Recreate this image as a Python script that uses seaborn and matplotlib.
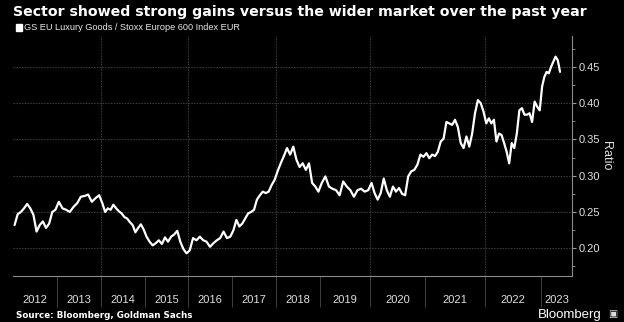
import numpy as np
import pandas as pd
import matplotlib
matplotlib.use("Agg")
import matplotlib.pyplot as plt
from matplotlib.patches import Patch
import seaborn as sns

# ---------------- data (ratio) ----------------
v2012 = [0.232, 0.247, 0.250, 0.255, 0.261, 0.255, 0.246, 0.223, 0.232, 0.237, 0.228, 0.234, 0.250, 0.253]
v2013 = [0.264, 0.255, 0.253, 0.250, 0.257, 0.262, 0.271, 0.272, 0.274, 0.264, 0.269, 0.273]
v2014 = [0.262, 0.250, 0.255, 0.253, 0.260, 0.255, 0.251, 0.248, 0.243, 0.241, 0.236, 0.232, 0.222, 0.228, 0.233, 0.226]
v2015 = [0.216, 0.209, 0.204, 0.207, 0.211, 0.206, 0.215, 0.209, 0.216, 0.219, 0.224, 0.209, 0.199, 0.193]
v2016 = [0.197, 0.214, 0.211, 0.216, 0.211, 0.209, 0.202, 0.207, 0.211, 0.214, 0.223, 0.214, 0.216]
v2017 = [0.225, 0.239, 0.230, 0.234, 0.241, 0.248, 0.250, 0.253, 0.267, 0.273, 0.278, 0.276, 0.278, 0.287, 0.294]
v2018 = [0.306, 0.317, 0.327, 0.338, 0.329, 0.340, 0.322, 0.312, 0.317, 0.308, 0.317, 0.290, 0.285, 0.278]
v2019 = [0.290, 0.299, 0.285, 0.282, 0.280, 0.273, 0.292, 0.285, 0.280, 0.271, 0.280, 0.282, 0.278, 0.280]
v2020 = [0.290, 0.276, 0.267, 0.276, 0.296, 0.280, 0.271, 0.285, 0.278, 0.283, 0.275, 0.273, 0.299,
         0.306, 0.308, 0.315, 0.329, 0.326]
v2021 = [0.331, 0.324, 0.329, 0.327, 0.333, 0.347, 0.351, 0.374, 0.372, 0.370, 0.377, 0.367, 0.345,
         0.338, 0.354, 0.340, 0.358, 0.386, 0.404, 0.400, 0.388]
v2022 = [0.372, 0.379, 0.372, 0.377, 0.347, 0.358, 0.356, 0.345, 0.333, 0.317, 0.345, 0.338, 0.358,
         0.390, 0.393, 0.384, 0.384, 0.386, 0.374, 0.402, 0.395, 0.390]
v2023 = [0.423, 0.436, 0.443, 0.441, 0.450, 0.457, 0.464, 0.459, 0.443]

years = [2012, 2013, 2014, 2015, 2016, 2017, 2018, 2019, 2020, 2021, 2022, 2023]
yearly_values = [v2012, v2013, v2014, v2015, v2016, v2017, v2018, v2019, v2020, v2021, v2022, v2023]
last_year_fraction = 0.36          # data runs to about May 2023

y_ticks = [0.20, 0.25, 0.30, 0.35, 0.40, 0.45]
y_tick_labels = ["0.20", "0.25", "0.30", "0.35", "0.40", "0.45"]
year_labels = [str(y) for y in years]

title = "Sector showed strong gains versus the wider market over the past year"
series_name = "GS EU Luxury Goods / Stoxx Europe 600 Index EUR"
source = "Source: Bloomberg, Goldman Sachs"

# ---------------- build the table (evenly spaced observations in each year) ----------------
dates, vals = [], []
for y, v in zip(years, yearly_values):
    span = last_year_fraction if y == years[-1] else 1.0
    n = len(v)
    dates.extend(y + (np.arange(n) + 0.5) / n * span)
    vals.extend(v)
df = pd.DataFrame({"date": dates, "ratio": vals})

# ---------------- Bloomberg style uneven time axis ----------------
year_widths = [44, 44, 44, 43, 44, 44, 44, 50, 55, 60, 56, 56]   # layout of the reference axis
edges = np.arange(years[0], years[-1] + 2, dtype=float)
pos = np.concatenate([[0.0], np.cumsum(year_widths)]).astype(float)

def fwd(t):
    return np.interp(t, edges, pos)

def inv(p):
    return np.interp(p, pos, edges)

x_min = years[0]
x_max = years[-1] + 31 / 56

# ---------------- figure ----------------
sns.set_theme(style="dark")
plt.rcParams["font.family"] = ["Liberation Sans", "DejaVu Sans"]
BG = "#000000"
fig = plt.figure(figsize=(6.24, 3.22), dpi=100, facecolor=BG)
ax = fig.add_axes([13 / 624, 1 - 276 / 322, (572 - 13) / 624, (276 - 36) / 322])
ax.set_facecolor(BG)

sns.lineplot(data=df, x="date", y="ratio", color="white", linewidth=1.6, ax=ax, legend=False)

ax.set_xscale("function", functions=(fwd, inv))
ax.set_xlim(x_min, x_max)
ax.set_ylim(0.1618, 0.4924)

# y axis on right
ax.yaxis.tick_right()
ax.set_yticks(y_ticks)
ax.set_yticklabels(y_tick_labels)
ax.set_yticks(np.arange(0.175, 0.49, 0.05), minor=True)
ax.tick_params(axis="y", which="major", colors="#9a9a9a", labelcolor="#e0e0e0", length=3,
               width=0.8, pad=1.5, labelsize=8, direction="out", right=True, left=False)
ax.tick_params(axis="y", which="minor", colors="#9a9a9a", length=2, width=0.6, right=True, left=False)
ax.yaxis.set_label_position("right")
ax.set_ylabel("Ratio", rotation=270, color="#e0e0e0", fontsize=9, labelpad=9)

# x axis: labels centred in each year, separators at year boundaries
label_pos = [y + 0.5 for y in years[:-1]] + [(years[-1] + x_max) / 2]
ax.set_xticks(label_pos)
ax.set_xticklabels(year_labels)
ax.set_xticks(years[1:], minor=True)
ax.tick_params(axis="x", which="major", length=0, pad=14, labelsize=8, labelcolor="#e0e0e0")
ax.tick_params(axis="x", which="minor", length=22, width=0.6, colors="#4a4a4a", bottom=True)
ax.set_xlabel("")

# grid
ax.grid(False)
for yt in y_ticks:
    ax.axhline(yt, color="#363636", lw=0.8, ls=(0, (1.5, 1)), zorder=0)
for gx in years[2::2]:
    ax.axvline(gx, color="#363636", lw=0.8, ls=(0, (1.5, 1)), zorder=0)

for s in ["left", "top"]:
    ax.spines[s].set_visible(False)
for s in ["right", "bottom"]:
    ax.spines[s].set_visible(True)
    ax.spines[s].set_color("#8a8a8a")
    ax.spines[s].set_linewidth(0.8)

# texts
fig.text(13 / 624, 1 - 12 / 322, title, color="white", fontsize=10.2, fontweight="bold",
         family="DejaVu Sans", va="center", ha="left")
leg = ax.legend(handles=[Patch(facecolor="white", edgecolor="white")], labels=[series_name],
                loc="center left", bbox_to_anchor=(16 / 624, 1 - 28 / 322), bbox_transform=fig.transFigure,
                frameon=False, handlelength=0.7, handleheight=0.7, handletextpad=0.2,
                borderaxespad=0, borderpad=0, fontsize=6.6)
for t in leg.get_texts():
    t.set_color("#e8e8e8")
fig.text(16 / 624, 1 - 316 / 322, source, color="white", fontsize=6.3, fontweight="bold",
         family="DejaVu Sans", va="center", ha="left")
fig.text(602 / 624, 1 - 315 / 322, "Bloomberg", color="white", fontsize=9.5, va="center", ha="right")
fig.text(613 / 624, 1 - 314 / 322, "\u25A3", color="#dddddd", fontsize=7, va="center", ha="center",
         family="DejaVu Sans")

fig.savefig("out.png", dpi=100, facecolor=BG)
